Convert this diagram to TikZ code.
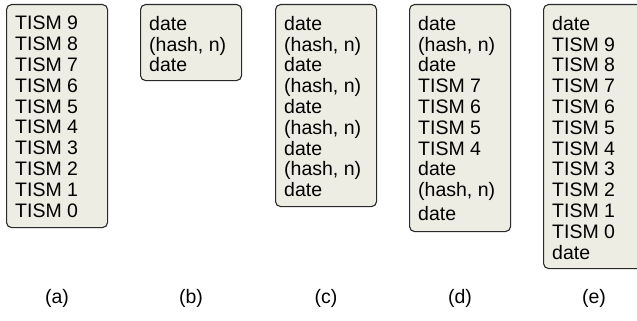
\documentclass[tikz,border=0pt]{standalone}
\usepackage{fontspec}
\setmainfont{Liberation Sans}
\definecolor{panelfill}{HTML}{EDEDE3}
\definecolor{panelline}{HTML}{2A2A2A}
\begin{document}
\begin{tikzpicture}[x=1pt,y=1pt,
  panel/.style={draw=panelline, fill=panelfill, line width=1.1pt, rounded corners=5pt,
    minimum width=101pt, inner sep=0pt, anchor=north west},
  lines/.style={anchor=north west, align=left, inner sep=0pt,
    font=\fontsize{19.5}{20.8}\selectfont},
  caplabel/.style={anchor=base, inner sep=0pt, font=\fontsize{19.5}{20.8}\selectfont}]
\useasboundingbox (0,0) rectangle (637,-321);
\clip (0,0) rectangle (637,-321);
\node[panel, minimum height=223pt] (A) at (6,-4) {};
\node[panel, minimum height=76pt]  (B) at (140,-4) {};
\node[panel, minimum height=202pt] (C) at (275,-4) {};
\node[panel, minimum height=227pt] (D) at (409,-4) {};
\node[panel, minimum height=264pt] (E) at (543,-4) {};

\node[lines] (ta) at ([shift={(9,-12)}]A.north west)
  {TISM 9\\TISM 8\\TISM 7\\TISM 6\\TISM 5\\TISM 4\\TISM 3\\TISM 2\\TISM 1\\TISM 0};
\node[lines] (tb) at ([shift={(9,-12)}]B.north west)
  {date\\(hash, n)\\date};
\node[lines] (tc) at ([shift={(9,-12)}]C.north west)
  {date\\(hash, n)\\date\\(hash, n)\\date\\(hash, n)\\date\\(hash, n)\\date};
\node[lines] (td) at ([shift={(9,-12)}]D.north west)
  {date\\(hash, n)\\date\\TISM 7\\TISM 6\\TISM 5\\TISM 4\\date\\(hash, n)\\[3pt]date};
\node[lines] (te) at ([shift={(9,-12)}]E.north west)
  {date\\TISM 9\\TISM 8\\TISM 7\\TISM 6\\TISM 5\\TISM 4\\TISM 3\\TISM 2\\TISM 1\\TISM 0\\date};

\node[caplabel] (la) at (A.center |- 0,-303) {(a)};
\node[caplabel] (lb) at (B.center |- 0,-303) {(b)};
\node[caplabel] (lc) at (C.center |- 0,-303) {(c)};
\node[caplabel] (ld) at (D.center |- 0,-303) {(d)};
\node[caplabel] (le) at (E.center |- 0,-303) {(e)};
\end{tikzpicture}
\end{document}
